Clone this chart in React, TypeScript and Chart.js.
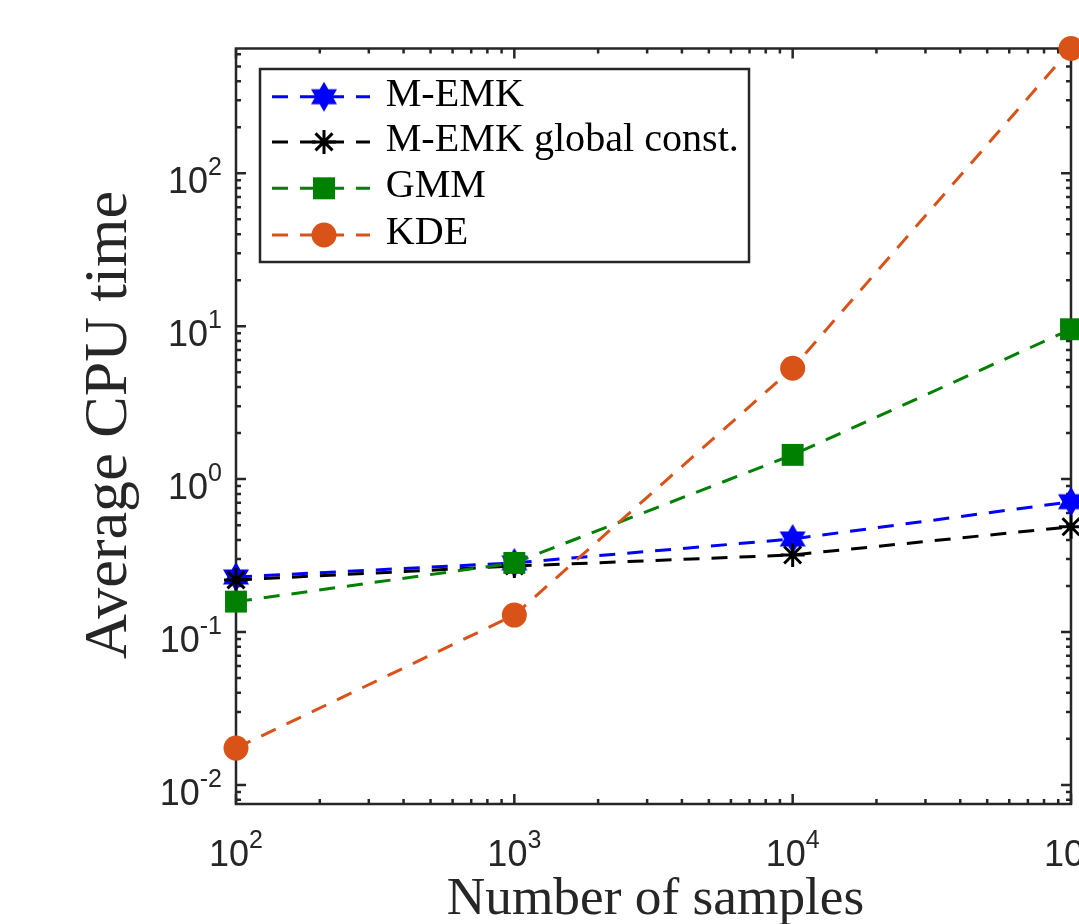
import React, { useEffect, useRef } from "react";
import { Chart, registerables } from "chart.js";
Chart.register(...registerables);

// ---- data ----
const samples = [100, 1000, 10000, 100000];
const memk = [0.229, 0.283, 0.406, 0.711];
const memkGlobal = [0.219, 0.27, 0.319, 0.488];
const gmm = [0.158, 0.283, 1.44, 9.55];
const kde = [0.0174, 0.129, 5.31, 655];
const seriesLabels = ["M-EMK", "M-EMK global const.", "GMM", "KDE"];
const seriesColors = ["#0000FF", "#000000", "#008000", "#D95319"];
const xTickValues = [100, 1000, 10000, 100000];
const xTickExponents = ["2", "3", "4", "5"];
const yTickValues = [0.01, 0.1, 1, 10, 100];
const yTickExponents = ["-2", "-1", "0", "1", "2"];
const xLabel = "Number of samples";
const yLabel = "Average CPU time";
const xMin = 100;
const xMax = 100000;
const yMin = 0.0075;
const yMax = 655;

const W = 1150;
const H = 960;
const AX = "#262626";
const SERIF = "'Liberation Serif', 'Times New Roman', serif";
const SANS = "'Liberation Sans', Arial, Helvetica, sans-serif";
const LW = 3;

function makeHexagram(color: string, R: number) {
  const c = document.createElement("canvas");
  const s = Math.ceil(2 * R + 2);
  c.width = s;
  c.height = s;
  const g = c.getContext("2d")!;
  g.fillStyle = color;
  g.beginPath();
  const r = R / Math.sqrt(3);
  for (let i = 0; i < 12; i++) {
    const a = -Math.PI / 2 + (i * Math.PI) / 6;
    const rad = i % 2 === 0 ? R : r;
    const x = s / 2 + rad * Math.cos(a);
    const y = s / 2 + rad * Math.sin(a);
    if (i === 0) g.moveTo(x, y);
    else g.lineTo(x, y);
  }
  g.closePath();
  g.fill();
  return c;
}

function fitSize(ctx: CanvasRenderingContext2D, text: string, family: string, target: number) {
  ctx.font = `100px ${family}`;
  const m = ctx.measureText(text);
  const w = m.actualBoundingBoxLeft + m.actualBoundingBoxRight;
  return (100 * target) / w;
}

function drawAsterisk(ctx: CanvasRenderingContext2D, x: number, y: number, r: number) {
  ctx.beginPath();
  for (let i = 0; i < 4; i++) {
    const a = (i * Math.PI) / 4;
    ctx.moveTo(x + r * Math.cos(a), y + r * Math.sin(a));
    ctx.lineTo(x - r * Math.cos(a), y - r * Math.sin(a));
  }
  ctx.stroke();
}

export default function App() {
  const ref = useRef<HTMLCanvasElement | null>(null);
  useEffect(() => {
    const canvas = ref.current!;
    const hex = makeHexagram(seriesColors[0], 15);

    const axesPlugin = {
      id: "matlabAxes",
      beforeDatasetsDraw(chart: any) {
        const ctx: CanvasRenderingContext2D = chart.ctx;
        const { left, right, top, bottom } = chart.chartArea;
        const xs = chart.scales.x;
        const ys = chart.scales.y;
        ctx.save();
        ctx.strokeStyle = AX;
        ctx.lineWidth = 2.5;
        ctx.setLineDash([]);
        // x ticks
        ctx.beginPath();
        for (let e = 2; e <= 5; e++) {
          for (let m = 1; m <= 9; m++) {
            const v = m * Math.pow(10, e);
            if (v > xMax) break;
            const px = xs.getPixelForValue(v);
            const len = m === 1 ? 10 : 5;
            ctx.moveTo(px, bottom);
            ctx.lineTo(px, bottom - len);
            ctx.moveTo(px, top);
            ctx.lineTo(px, top + len);
          }
        }
        // y ticks
        for (let e = -3; e <= 2; e++) {
          for (let m = 1; m <= 9; m++) {
            const v = m * Math.pow(10, e);
            if (v < yMin || v > yMax) continue;
            const py = ys.getPixelForValue(v);
            const len = m === 1 ? 10 : 5;
            ctx.moveTo(left, py);
            ctx.lineTo(left + len, py);
            ctx.moveTo(right, py);
            ctx.lineTo(right - len, py);
          }
        }
        ctx.stroke();
        ctx.strokeRect(left, top, right - left, bottom - top);

        // tick labels
        ctx.fillStyle = AX;
        ctx.textBaseline = "alphabetic";
        ctx.textAlign = "left";
        const big = `36px ${SANS}`;
        const small = `25px ${SANS}`;
        xTickValues.forEach((v, i) => {
          const px = xs.getPixelForValue(v);
          ctx.font = big;
          const w1 = ctx.measureText("10").width;
          ctx.font = small;
          const w2 = ctx.measureText(xTickExponents[i]).width;
          const x0 = px - (w1 + w2) / 2;
          ctx.font = big;
          ctx.fillText("10", x0, bottom + 62);
          ctx.font = small;
          ctx.fillText(xTickExponents[i], x0 + w1, bottom + 44);
        });
        yTickValues.forEach((v, i) => {
          const py = ys.getPixelForValue(v);
          ctx.font = big;
          const w1 = ctx.measureText("10").width;
          ctx.font = small;
          const w2 = ctx.measureText(yTickExponents[i]).width;
          const x0 = left - 14 - w1 - w2;
          ctx.font = big;
          ctx.fillText("10", x0, py + 20);
          ctx.font = small;
          ctx.fillText(yTickExponents[i], x0 + w1, py + 2);
        });

        // axis titles
        ctx.fillStyle = AX;
        const xs2 = fitSize(ctx, xLabel, SERIF, 415);
        ctx.font = `${xs2}px ${SERIF}`;
        ctx.textAlign = "center";
        ctx.fillText(xLabel, 655.5, 914);
        const ys2 = fitSize(ctx, yLabel, SERIF, 466);
        ctx.save();
        ctx.translate(126, 425);
        ctx.rotate(-Math.PI / 2);
        ctx.font = `${ys2}px ${SERIF}`;
        ctx.textAlign = "center";
        ctx.fillText(yLabel, 0, 0);
        ctx.restore();
        ctx.restore();
      },
      afterDraw(chart: any) {
        const ctx: CanvasRenderingContext2D = chart.ctx;
        ctx.save();
        // legend box
        const bx = 260, by = 69, bw = 489, bh = 193;
        ctx.fillStyle = "#ffffff";
        ctx.fillRect(bx, by, bw, bh);
        ctx.strokeStyle = AX;
        ctx.lineWidth = 2.5;
        ctx.strokeRect(bx, by, bw, bh);
        const fs = fitSize(ctx, seriesLabels[1], SERIF, 350);
        const rows = [96.7, 141.9, 188.3, 235];
        rows.forEach((cy, i) => {
          const col = seriesColors[i];
          ctx.strokeStyle = col;
          ctx.lineWidth = LW;
          ctx.setLineDash([16, 12]);
          ctx.beginPath();
          ctx.moveTo(272, cy);
          ctx.lineTo(370, cy);
          ctx.stroke();
          ctx.setLineDash([]);
          const mx = 324;
          if (i === 0) {
            ctx.drawImage(hex, mx - hex.width / 2, cy - hex.height / 2);
          } else if (i === 1) {
            ctx.strokeStyle = col;
            ctx.lineWidth = LW;
            drawAsterisk(ctx, mx, cy, 12);
          } else if (i === 2) {
            ctx.fillStyle = col;
            ctx.fillRect(mx - 11, cy - 11, 22, 22);
          } else {
            ctx.fillStyle = col;
            ctx.beginPath();
            ctx.arc(mx, cy, 12.5, 0, Math.PI * 2);
            ctx.fill();
          }
          ctx.fillStyle = "#000000";
          ctx.font = `${fs}px ${SERIF}`;
          ctx.textAlign = "left";
          ctx.textBaseline = "alphabetic";
          const m = ctx.measureText(seriesLabels[i]);
          ctx.fillText(seriesLabels[i], 386.7 + m.actualBoundingBoxLeft, cy + 9);
        });
        ctx.restore();
      },
    };

    const mk = (arr: number[]) => samples.map((x, i) => ({ x, y: arr[i] }));
    const common = {
      borderDash: [16, 12],
      borderWidth: LW,
      fill: false,
      tension: 0,
      clip: false as any,
    };

    const chart = new Chart(canvas, {
      type: "line",
      data: {
        datasets: [
          {
            ...common,
            label: seriesLabels[0],
            data: mk(memk),
            borderColor: seriesColors[0],
            backgroundColor: seriesColors[0],
            pointStyle: hex as any,
            pointRadius: 15,
            order: 3,
          },
          {
            ...common,
            label: seriesLabels[1],
            data: mk(memkGlobal),
            borderColor: seriesColors[1],
            backgroundColor: seriesColors[1],
            pointStyle: "star",
            pointRadius: 12,
            pointBorderWidth: LW,
            order: 2,
          },
          {
            ...common,
            label: seriesLabels[2],
            data: mk(gmm),
            borderColor: seriesColors[2],
            backgroundColor: seriesColors[2],
            pointStyle: "rect",
            pointRadius: 15.5,
            pointBorderWidth: 0,
            order: 1,
          },
          {
            ...common,
            label: seriesLabels[3],
            data: mk(kde),
            borderColor: seriesColors[3],
            backgroundColor: seriesColors[3],
            pointStyle: "circle",
            pointRadius: 12.5,
            pointBorderWidth: 0,
            order: 0,
          },
        ],
      },
      options: {
        responsive: false,
        animation: false,
        events: [],
        layout: { padding: { left: 236, top: 48.5, right: W - 1071, bottom: H - 804 } },
        plugins: { legend: { display: false }, tooltip: { enabled: false } },
        scales: {
          x: { type: "logarithmic", min: xMin, max: xMax, display: false },
          y: { type: "logarithmic", min: yMin, max: yMax, display: false },
        },
      },
      plugins: [axesPlugin],
    });
    return () => chart.destroy();
  }, []);

  return (
    <div
      style={{
        position: "fixed",
        left: 0,
        top: 0,
        width: 1079,
        height: 924,
        overflow: "hidden",
        background: "#ffffff",
      }}
    >
      <canvas ref={ref} width={W} height={H} style={{ display: "block", width: W, height: H }} />
    </div>
  );
}
